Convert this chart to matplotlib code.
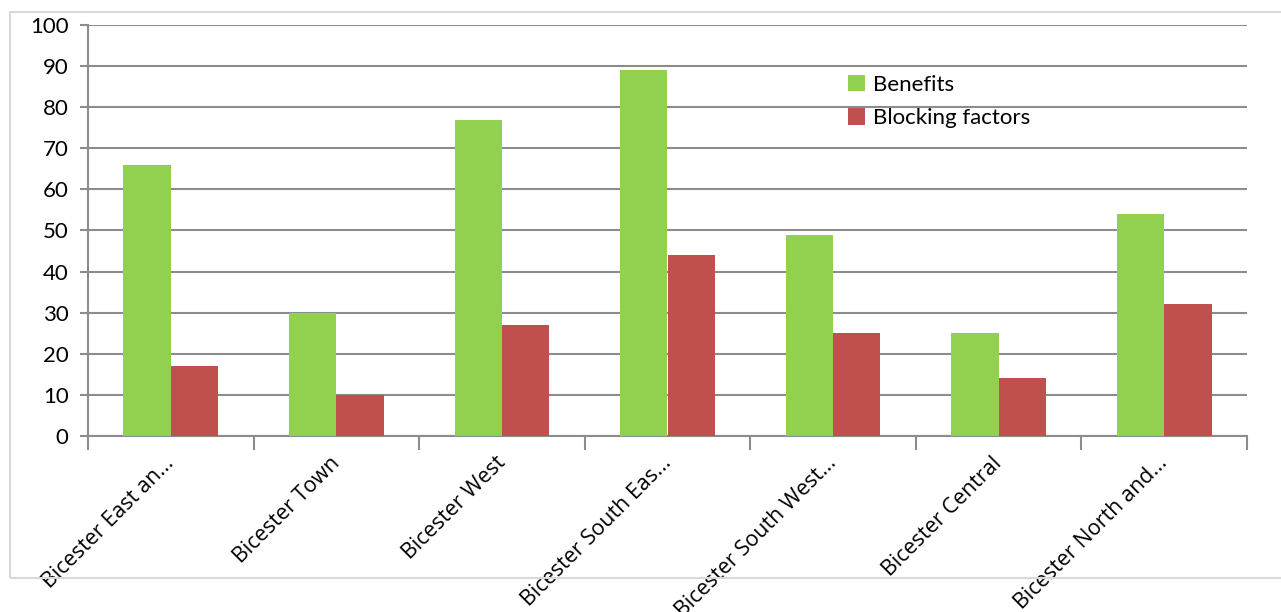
import matplotlib
matplotlib.use("Agg")
import matplotlib.pyplot as plt
import numpy as np
from matplotlib.patches import Rectangle

categories = ["Bicester East an...", "Bicester Town", "Bicester West",
              "Bicester South Eas...", "Bicester South West...",
              "Bicester Central", "Bicester North and..."]
benefits = [66, 30, 77, 89, 49, 25, 54]
blocking = [17, 10, 27, 44, 25, 14, 32]
series_names = ["Benefits", "Blocking factors"]
y_ticks = [0, 10, 20, 30, 40, 50, 60, 70, 80, 90, 100]

GREEN = "#92D050"
RED = "#C0504D"
GRID = "#8c8c8c"

W, H = 1281, 612
fig = plt.figure(figsize=(W / 100, H / 100), dpi=100)

# light chart-area border
fig.patches.append(Rectangle((10 / W, 1 - 578 / H), (W - 8) / W, (578 - 12) / H,
                             transform=fig.transFigure, fill=False,
                             edgecolor="#d9d9d9", linewidth=1.5))

left, right, top, bottom = 88, 1247, 25, 436
ax = fig.add_axes([left / W, 1 - bottom / H, (right - left) / W, (bottom - top) / H])

n = len(categories)
x = np.arange(n)
bw = 1 / 3.5
ax.bar(x - bw / 2, benefits, width=bw, color=GREEN, label=series_names[0], zorder=3)
ax.bar(x + bw / 2, blocking, width=bw, color=RED, label=series_names[1], zorder=3)

ax.set_xlim(-0.5, n - 0.5)
ax.set_ylim(0, 100)
ax.set_yticks(y_ticks)
ax.set_yticklabels([str(v) for v in y_ticks], fontfamily="Lato", fontsize=16)
ax.yaxis.grid(True, color=GRID, linewidth=1.5, zorder=0)
ax.set_axisbelow(True)

ax.set_xticks(np.arange(n + 1) - 0.5)
ax.set_xticklabels([])
ax.tick_params(axis="x", length=10, width=1.5, color=GRID)
ax.tick_params(axis="y", length=6, width=1.5, color=GRID, pad=8)

for side in ["top", "right"]:
    ax.spines[side].set_visible(False)
for side in ["left", "bottom"]:
    ax.spines[side].set_color(GRID)
    ax.spines[side].set_linewidth(1.5)

for i, lab in enumerate(categories):
    ax.annotate(lab, xy=(i, 0), xycoords=("data", "axes fraction"),
                xytext=(-5, -12), textcoords="offset points",
                rotation=45, ha="right", va="top", rotation_mode="anchor",
                fontfamily="Open Sans", fontsize=15.5)

leg = ax.legend(loc="upper left", bbox_to_anchor=((839 - left) / (right - left), 1 - (66 - top) / (bottom - top)),
                frameon=False, prop={"family": "Lato", "size": 16},
                handlelength=0.75, handleheight=0.75, handletextpad=0.4,
                labelspacing=0.6, borderaxespad=0)

fig.savefig("out.png", dpi=100)
